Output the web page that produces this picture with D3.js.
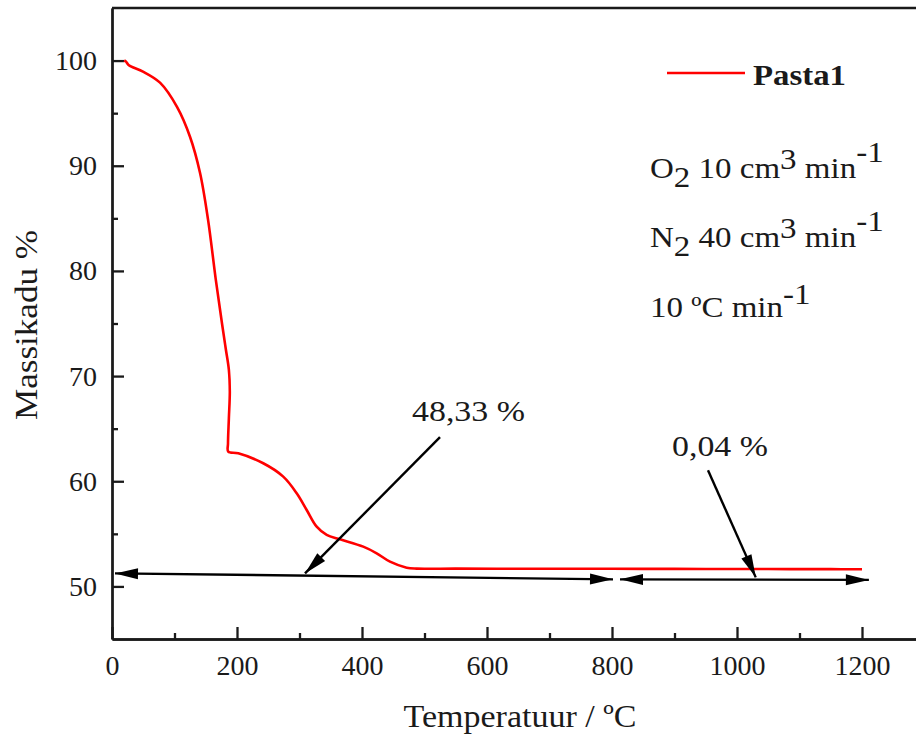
<!DOCTYPE html>
<html><head><meta charset="utf-8">
<script src="https://cdn.jsdelivr.net/npm/d3@7"></script>
<style>
body{margin:0;background:#fff}
svg{display:block}
text{font-family:"Liberation Serif","Times New Roman",serif;fill:#1a1a1a}
</style>
</head><body><svg id="c" width="916" height="739"></svg>
<script>
// ---- data ----
const temperature = [19.5,22.5,27,49.6,76.8,104,124.8,140.8,153.6,166,176,182,187,188.5,187,185.6,186,202,242,274,295.5,311.5,327.5,343.5,364.8,402,423.5,444.8,471.5,487.5,550,650,750,850,950,1050,1150,1200];
const mass = [100.03,99.9,99.55,98.95,97.9,95.6,92.76,89.33,84.9,79.2,75.0,72.6,70.6,68.5,66.0,63.6,62.81,62.66,61.71,60.44,58.86,57.27,55.68,54.9,54.48,53.78,53.15,52.35,51.78,51.69,51.69,51.68,51.68,51.67,51.66,51.65,51.64,51.63];
const seriesName = "Pasta1";
const xMajorTicks = [0,200,400,600,800,1000,1200];
const xMinorTicks = [100,300,500,700,900,1100,1300];
const yMajorTicks = [50,60,70,80,90,100];
const yMinorTicks = [55,65,75,85,95];
const xTitle = "Temperatuur / ºC";
const yTitle = "Massikadu %";
// double-headed span arrows: [t1, m1, t2, m2]
const spanArrows = [[4.8,51.24,801.6,50.67],[812.8,50.67,1211,50.62]];
// pointer arrows: [tFrom, mFrom, tTo, mTo]
const pointerArrows = [[524.8,64.19,308.8,51.24],[953.6,61.05,1030,50.86]];
const annotationTexts = ["48,33 %","0,04 %"];
const annotationAt = [[480,65.73],[896,62.4]];
const conditionLines = [
  [["O",0],["2",9],[" 10 cm",0],["3",-9],[" min",0],["-1",-16]],
  [["N",0],["2",9],[" 40 cm",0],["3",-9],[" min",0],["-1",-16]],
  [["10 ºC min",0],["-1",-13]]
];

// ---- chart ----
const svg = d3.select("#c");
const x = d3.scaleLinear().domain([0,1300]).range([112,924.5]);
const y = d3.scaleLinear().domain([45,105]).range([639,8]);

svg.append("g").attr("transform","translate(0,639)")
  .call(d3.axisBottom(x).tickValues(xMajorTicks).tickSize(-12).tickSizeOuter(0).tickPadding(16).tickFormat(d3.format("d")));
svg.append("g").attr("transform","translate(0,639)")
  .call(d3.axisBottom(x).tickValues(xMinorTicks).tickSize(-6).tickSizeOuter(0).tickFormat(""));
svg.append("g").attr("transform","translate(112,0)")
  .call(d3.axisLeft(y).tickValues(yMajorTicks).tickSize(-12).tickSizeOuter(0).tickPadding(15));
svg.append("g").attr("transform","translate(112,0)")
  .call(d3.axisLeft(y).tickValues(yMinorTicks).tickSize(-6).tickSizeOuter(0).tickFormat(""));
svg.selectAll(".domain, .tick line").attr("stroke","#1a1a1a").attr("stroke-width",2.3);
svg.selectAll(".tick text").attr("font-family","'Liberation Serif',serif").attr("font-size",28).attr("fill","#1a1a1a");
// top spine
svg.append("line").attr("x1",x(0)).attr("x2",916).attr("y1",y(105)).attr("y2",y(105))
  .attr("stroke","#1a1a1a").attr("stroke-width",2.3);

// titles
svg.append("text").attr("x",520).attr("y",727).attr("text-anchor","middle")
  .attr("font-size",32).attr("textLength",233).attr("lengthAdjust","spacingAndGlyphs").text(xTitle);
svg.append("text").attr("transform","translate(37,325) rotate(-90)").attr("text-anchor","middle")
  .attr("font-size",32).attr("textLength",190).attr("lengthAdjust","spacingAndGlyphs").text(yTitle);

// curve
const pts = temperature.map((t,i)=>[t,mass[i]]);
svg.append("path").datum(pts)
  .attr("fill","none").attr("stroke","#ff0000").attr("stroke-width",2.6).attr("stroke-linejoin","round")
  .attr("d", d3.line().x(d=>x(d[0])).y(d=>y(d[1])).curve(d3.curveCatmullRom.alpha(0.5)));

// arrowhead helper
function head(px,py,fx,fy){
  const a = Math.atan2(py-fy, px-fx), L=23, W=5.5;
  const bx = px - L*Math.cos(a), by = py - L*Math.sin(a);
  const nx = -Math.sin(a)*W, ny = Math.cos(a)*W;
  return [[px,py],[bx+nx,by+ny],[bx-nx,by-ny]];
}
const ag = svg.append("g");
spanArrows.forEach(s=>{
  const x1=x(s[0]),y1=y(s[1]),x2=x(s[2]),y2=y(s[3]);
  ag.append("line").attr("x1",x1).attr("y1",y1).attr("x2",x2).attr("y2",y2).attr("stroke","#000").attr("stroke-width",2.4);
  ag.append("polygon").attr("points",head(x1,y1,x2,y2).join(" ")).attr("fill","#000");
  ag.append("polygon").attr("points",head(x2,y2,x1,y1).join(" ")).attr("fill","#000");
});
pointerArrows.forEach(s=>{
  const x1=x(s[0]),y1=y(s[1]),x2=x(s[2]),y2=y(s[3]);
  ag.append("line").attr("x1",x1).attr("y1",y1).attr("x2",x2).attr("y2",y2).attr("stroke","#000").attr("stroke-width",2.4);
  ag.append("polygon").attr("points",head(x2,y2,x1,y1).join(" ")).attr("fill","#000");
});
const annLen = [113,96];
annotationTexts.forEach((t,i)=>{
  svg.append("text").attr("x",x(annotationAt[i][0])).attr("y",y(annotationAt[i][1]))
    .attr("font-size",29).attr("textLength",annLen[i]).attr("lengthAdjust","spacingAndGlyphs").text(t);
});

// legend
svg.append("line").attr("x1",667).attr("x2",745).attr("y1",73).attr("y2",73)
  .attr("stroke","#ff0000").attr("stroke-width",2.6);
svg.append("text").attr("x",753).attr("y",85).attr("font-size",29).attr("font-weight","bold")
  .attr("textLength",93).attr("lengthAdjust","spacingAndGlyphs").text(seriesName);

// conditions
const baselines = [178,247,317];
const cg = svg.append("g").attr("transform","translate(650,0) scale(1.1,1)");
conditionLines.forEach((segs,i)=>{
  const t = cg.append("text").attr("x",0).attr("y",baselines[i]).attr("font-size",30);
  let prev = 0;
  segs.forEach(s=>{
    t.append("tspan").attr("dy", s[1]-prev).text(s[0]);
    prev = s[1];
  });
});
</script>
</body></html>
